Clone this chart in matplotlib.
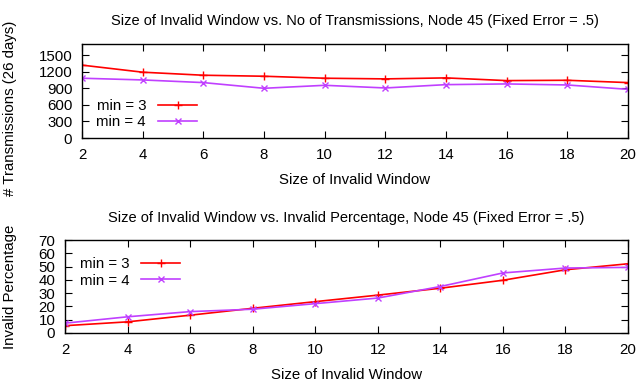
import numpy as np
import matplotlib
matplotlib.use("Agg")
import matplotlib.pyplot as plt

# invalid window sizes
window = [2, 4, 6, 8, 10, 12, 14, 16, 18, 20]

# number of transmissions (26 days)
tx_min3 = [1318, 1190, 1135, 1117, 1081, 1069, 1087, 1038, 1044, 1002]
tx_min4 = [1081, 1050, 1002, 899, 953, 905, 965, 978, 959, 880]

# invalid percentage
pct_min3 = [5.5, 8.4, 13.4, 18.6, 23.6, 28.5, 33.7, 39.7, 47.6, 52.1]
pct_min4 = [7.4, 12.2, 16.1, 17.9, 22.1, 26.3, 35.0, 45.2, 48.9, 49.4]

plt.rcParams['font.family'] = ['Liberation Sans', 'DejaVu Sans']

RED = '#ff0000'
PURPLE = '#c040ff'
FS = 10.8

W, H = 639, 383
fig = plt.figure(figsize=(W / 100, H / 100), dpi=100)


def box(l, t, r, b):
    return [l / W, 1 - b / H, (r - l) / W, (b - t) / H]


def style(ax):
    ax.set_xlim(2, 20)
    ax.set_xticks(window)
    ax.tick_params(direction='in', top=True, right=True, length=5, width=0.8,
                   labelsize=FS, pad=7)
    for s in ax.spines.values():
        s.set_linewidth(1.0)


ax1 = fig.add_axes(box(82, 44, 628, 138))
ax1.plot(window, tx_min3, color=RED, marker='+', ms=6, lw=1.2, label='min = 3')
ax1.plot(window, tx_min4, color=PURPLE, marker='x', ms=5, lw=1.2, label='min = 4')
ax1.set_ylim(0, 1700)
ax1.set_yticks(np.arange(0, 1501, 300))
style(ax1)
ax1.set_title('Size of Invalid Window vs. No of Transmissions, Node 45 (Fixed Error = .5)',
              fontsize=10.5, pad=14)
ax1.set_xlabel('Size of Invalid Window', fontsize=FS, labelpad=8)
ax1.set_ylabel('# Transmissions (26 days)', fontsize=FS)
ax1.yaxis.set_label_coords(-65 / 546, 0.32)
ax1.legend(loc='lower left', frameon=False, markerfirst=False, handlelength=2.6,
           fontsize=FS, borderaxespad=0.2, labelspacing=0.15,
           bbox_to_anchor=(0.01, 0.0))

ax2 = fig.add_axes(box(65, 240, 628, 333))
ax2.plot(window, pct_min3, color=RED, marker='+', ms=6, lw=1.2, label='min = 3')
ax2.plot(window, pct_min4, color=PURPLE, marker='x', ms=5, lw=1.2, label='min = 4')
ax2.set_ylim(0, 70)
ax2.set_yticks(np.arange(0, 71, 10))
style(ax2)
ax2.set_title('Size of Invalid Window vs. Invalid Percentage, Node 45 (Fixed Error = .5)',
              fontsize=10.5, pad=13)
ax2.set_xlabel('Size of Invalid Window', fontsize=FS, labelpad=8)
ax2.set_ylabel('Invalid Percentage', fontsize=FS)
ax2.yaxis.set_label_coords(-48 / 563, 0.5)
ax2.legend(loc='upper left', frameon=False, markerfirst=False, handlelength=2.6,
           fontsize=FS, borderaxespad=0.2, labelspacing=0.15,
           bbox_to_anchor=(0.01, 0.91))

fig.savefig('out.png', dpi=100)
